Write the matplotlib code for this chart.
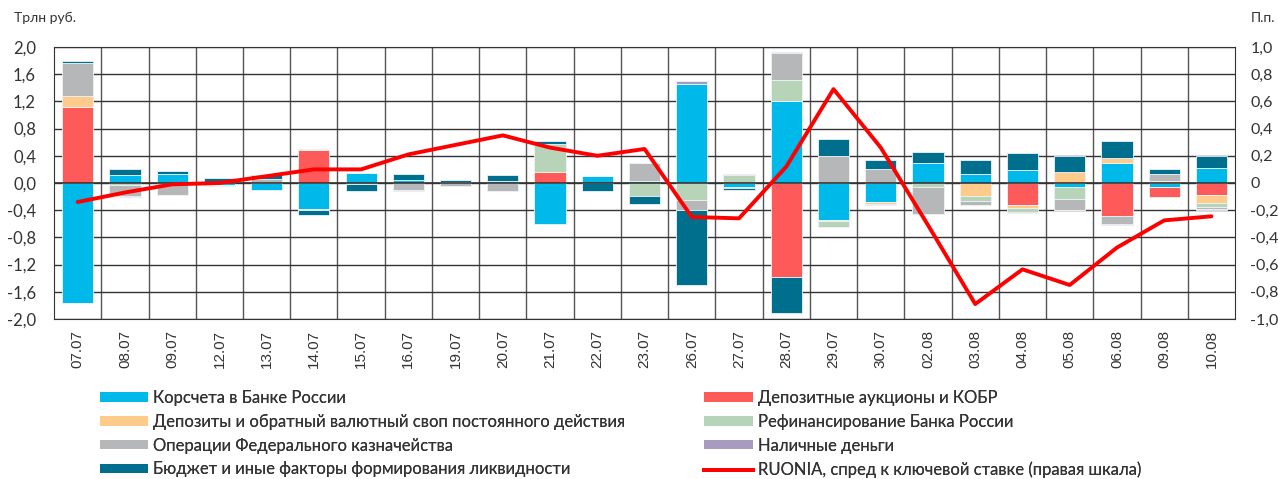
import matplotlib
matplotlib.use('Agg')
import matplotlib.pyplot as plt
import numpy as np
from matplotlib.patches import Patch
from matplotlib.lines import Line2D

dates = ['07.07', '08.07', '09.07', '12.07', '13.07', '14.07', '15.07', '16.07',
         '19.07', '20.07', '21.07', '22.07', '23.07', '26.07', '27.07', '28.07',
         '29.07', '30.07', '02.08', '03.08', '04.08', '05.08', '06.08', '09.08', '10.08']

korscheta = [-1.76, 0.12, 0.13, -0.03, -0.11, -0.38, 0.14, 0.04, 0.01, 0.03, -0.60, 0.10, 0.03,
             1.46, -0.06, 1.20, -0.55, -0.28, 0.29, 0.13, 0.19, -0.06, 0.30, -0.06, 0.22]
auctions = [1.11, 0, 0, 0, 0, 0.49, 0, 0, 0, 0, 0.16, 0, 0,
            0, 0, -1.38, 0, 0, 0, 0, -0.33, 0, -0.49, -0.15, -0.18]
deposits = [0.17, 0, 0, 0, 0, -0.01, 0, 0, 0, 0, 0, 0, 0,
            0, -0.01, 0, -0.01, -0.03, 0, -0.19, -0.04, 0.16, 0.07, 0.03, -0.12]
refin = [0, -0.03, 0, -0.01, 0, -0.01, 0, 0.01, 0, 0, 0.41, 0, -0.19,
         -0.25, 0.12, 0.32, -0.08, 0, -0.06, -0.08, -0.06, -0.18, 0, 0, -0.05]
treasury = [0.48, -0.16, -0.17, 0, 0.06, 0.01, 0, -0.11, -0.04, -0.12, 0, 0, 0.27,
            -0.14, 0, 0.39, 0.40, 0.20, -0.40, -0.06, 0, -0.15, -0.11, 0.10, -0.03]
cash = [-0.01, -0.02, -0.01, 0, 0, 0, -0.02, -0.01, 0, 0, 0, 0, 0,
        0.04, 0.01, 0.01, 0, -0.02, 0, 0, -0.01, -0.01, -0.02, 0, -0.01]
budget = [0.03, 0.09, 0.05, 0.07, 0.05, -0.07, -0.10, 0.08, 0.035, 0.08, 0.04, -0.12, -0.12,
          -1.11, -0.03, -0.53, 0.24, 0.14, 0.17, 0.21, 0.25, 0.23, 0.24, 0.07, 0.18]
ruonia = [-0.14, -0.07, -0.01, 0.0, 0.05, 0.10, 0.10, 0.21, 0.28, 0.35, 0.26, 0.20, 0.25,
          -0.25, -0.26, 0.12, 0.69, 0.26, -0.31, -0.89, -0.635, -0.75, -0.475, -0.275, -0.245]

names = ['Корсчета в Банке России', 'Депозитные аукционы и КОБР',
         'Депозиты и обратный валютный своп постоянного действия', 'Рефинансирование Банка России',
         'Операции Федерального казначейства', 'Наличные деньги',
         'Бюджет и иные факторы формирования ликвидности']
line_name = 'RUONIA, спред к ключевой ставке (правая шкала)'
series = [korscheta, auctions, deposits, refin, treasury, cash, budget]
colors = ['#00B9EB', '#FF5A5A', '#FFCB8A', '#B7D4B9', '#B6B7B9', '#A89BBF', '#006F8D']

plt.rcParams['font.family'] = ['Lato', 'DejaVu Sans']
txt = '#333333'

def fmt(t):
    s = f'{t:.1f}'.replace('.', ',')
    return '0,0' if s == '-0,0' else s

fig = plt.figure(figsize=(12.78, 4.79), dpi=100)
ax = fig.add_axes([0.0423, 0.334, 0.9241, 0.568])
x = np.arange(len(dates))

pos = np.zeros(len(dates))
neg = np.zeros(len(dates))
for vals, c in zip(series, colors):
    v = np.array(vals, dtype=float)
    bottom = np.where(v >= 0, pos, neg)
    ax.bar(x, v, 0.66, bottom=bottom, color=c, edgecolor='#EEF3F6', linewidth=0.6, zorder=3)
    pos += np.where(v >= 0, v, 0)
    neg += np.where(v < 0, v, 0)

ax.set_xlim(-0.5, len(dates) - 0.5)
ax.set_ylim(-2.0, 2.0)
lt = np.round(np.arange(-2.0, 2.01, 0.4), 2)
ax.set_yticks(lt)
ax.set_yticklabels([fmt(t) for t in lt])
ax.set_xticks(x)
ax.set_xticklabels(dates, rotation=90, family='Liberation Sans', fontsize=11, color=txt)
ax.tick_params(axis='both', length=0, labelsize=12, colors=txt)
ax.tick_params(axis='x', pad=8, labelsize=11)
ax.tick_params(axis='y', pad=13)

ax.grid(axis='y', color='#333333', linewidth=1, zorder=1)
for b in np.arange(0.5, len(dates) - 0.5, 1):
    ax.axvline(b, color='#555555', linewidth=1, zorder=1)
ax.axhline(0, color='#333333', linewidth=1.2, zorder=4)
for s in ax.spines.values():
    s.set_color('#333333')

ax2 = ax.twinx()
ax2.plot(x, ruonia, color='#FF0000', linewidth=2.8, zorder=5, solid_capstyle='round')
ax2.set_ylim(-1.0, 1.0)
rt = np.round(np.arange(-1.0, 1.01, 0.2), 2)
ax2.set_yticks(rt)
ax2.set_yticklabels(['0' if abs(t) < 1e-9 else fmt(t) for t in rt])
ax2.tick_params(axis='y', length=0, labelsize=11.5, colors=txt, pad=11)
for s in ax2.spines.values():
    s.set_visible(False)

fig.text(0.011, 0.955, 'Трлн руб.', fontsize=10, color=txt)
fig.text(0.979, 0.955, 'П.п.', fontsize=10, color=txt)

handles = [Patch(facecolor=c) for c in colors]
left_h = [handles[0], handles[2], handles[4], handles[6]]
left_l = [names[0], names[2], names[4], names[6]]
right_h = [handles[1], handles[3], handles[5], Line2D([0], [0], color='#FF0000', linewidth=2.8)]
right_l = [names[1], names[3], names[5], line_name]
for hs, ls, xa in [(left_h, left_l, 0.078), (right_h, right_l, 0.551)]:
    leg = fig.legend(hs, ls, loc='upper left', bbox_to_anchor=(xa, 0.186), ncol=1,
                     frameon=False, fontsize=12, handlelength=2.9, handleheight=0.5,
                     handletextpad=0.3, labelspacing=0.47, borderaxespad=0, borderpad=0)
    for t in leg.get_texts():
        t.set_color(txt)
    fig.add_artist(leg)

fig.savefig('out.png', dpi=100)
